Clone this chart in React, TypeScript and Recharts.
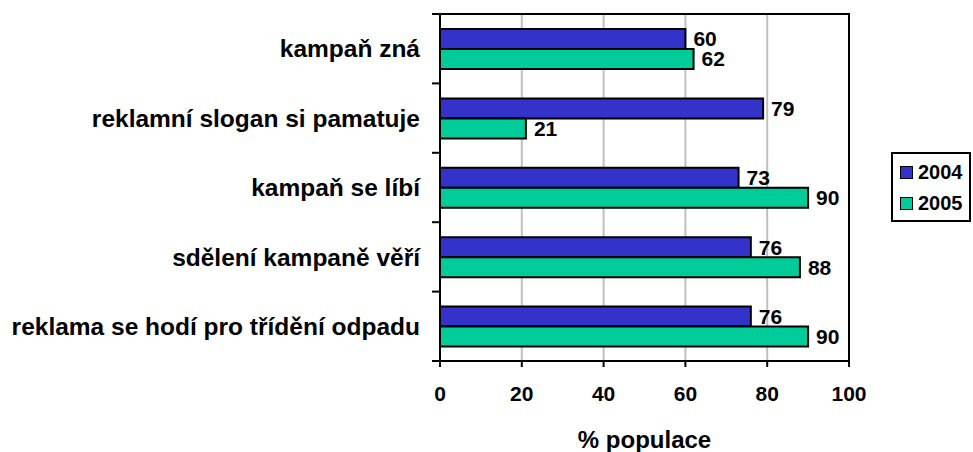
import React from 'react';
import { BarChart, Bar, XAxis, YAxis, CartesianGrid, LabelList, ReferenceArea, Label } from 'recharts';

const categories = [
  'kampaň zná',
  'reklamní slogan si pamatuje',
  'kampaň se líbí',
  'sdělení kampaně věří',
  'reklama se hodí pro třídění odpadu',
];
const values2004 = [60, 79, 73, 76, 76];
const values2005 = [62, 21, 90, 88, 90];
const xTicks = [0, 20, 40, 60, 80, 100];
const seriesNames = ['2004', '2005'];
const seriesColors = ['#3333CC', '#00CC99'];

const data = categories.map((name, i) => ({
  name,
  y2004: values2004[i],
  y2005: values2005[i],
}));

const FONT = '"Liberation Sans", Arial, sans-serif';

const CHART_W = 973;
const CHART_H = 452;
const MARGIN = { top: 14, right: 124, bottom: 0, left: 0 };
const X_AXIS_H = 91;
const Y_AXIS_W = 440;
const BAND = (CHART_H - MARGIN.top - MARGIN.bottom - X_AXIS_H) / categories.length;

// category label plus the small tick marks that sit between categories
const CategoryTick = (props: any) => {
  const { x, y, payload, index } = props;
  const axisX = x + 20;
  const isLast = index === categories.length - 1;
  return (
    <g>
      <text
        x={x}
        y={y}
        dy="0.355em"
        textAnchor="end"
        fill="#000"
        fontSize={24.5}
        fontWeight="bold"
        fontFamily={FONT}
      >
        {payload.value}
      </text>
      <line x1={axisX - 8} x2={axisX} y1={y - BAND / 2} y2={y - BAND / 2} stroke="#000" strokeWidth={2} />
      {isLast && (
        <line x1={axisX - 8} x2={axisX} y1={y + BAND / 2} y2={y + BAND / 2} stroke="#000" strokeWidth={2} />
      )}
    </g>
  );
};

const LegendBox = () => (
  <div
    style={{
      position: 'absolute',
      left: 891,
      top: 152,
      width: 80,
      height: 70,
      border: '2px solid #000',
      boxSizing: 'border-box',
      fontFamily: FONT,
      fontWeight: 'bold',
      fontSize: 20,
      background: '#fff',
    }}
  >
    {seriesNames.map((s, i) => (
      <div
        key={s}
        style={{ position: 'absolute', left: 7, top: i === 0 ? 6 : 37, height: 24, display: 'flex', alignItems: 'center' }}
      >
        <span
          style={{
            display: 'inline-block',
            width: 13,
            height: 13,
            background: seriesColors[i],
            border: '1.5px solid #000',
            boxSizing: 'border-box',
            marginRight: 5,
          }}
        />
        <span>{s}</span>
      </div>
    ))}
  </div>
);

export default function App() {
  const labelStyle = { fill: '#000', fontSize: 21, fontWeight: 'bold', fontFamily: FONT };
  return (
    <div style={{ position: 'absolute', left: 0, top: 0, width: CHART_W, height: CHART_H, background: '#fff' }}>
      <BarChart
        width={CHART_W}
        height={CHART_H}
        data={data}
        layout="vertical"
        margin={MARGIN}
        barSize={20}
        barGap={0}
      >
        <CartesianGrid horizontal={false} stroke="#c0c0c0" strokeWidth={2} />
        <XAxis
          type="number"
          domain={[0, 100]}
          ticks={xTicks}
          height={X_AXIS_H}
          axisLine={{ stroke: '#000', strokeWidth: 2 }}
          tickLine={{ stroke: '#000', strokeWidth: 2 }}
          tickSize={6}
          tickMargin={19}
          tick={{ fill: '#000', fontSize: 21, fontWeight: 'bold', fontFamily: FONT }}
        >
          <Label
            value="% populace"
            position="insideBottom"
            offset={4}
            style={{ fill: '#000', fontSize: 24, fontWeight: 'bold', fontFamily: FONT }}
          />
        </XAxis>
        <YAxis
          type="category"
          dataKey="name"
          width={Y_AXIS_W}
          axisLine={{ stroke: '#000', strokeWidth: 2 }}
          tickLine={false}
          tickSize={0}
          tickMargin={20}
          interval={0}
          tick={<CategoryTick />}
        />
        <ReferenceArea x1={0} x2={100} fill="none" stroke="#000" strokeWidth={2} fillOpacity={0} />
        <Bar dataKey="y2004" name="2004" fill={seriesColors[0]} stroke="#000" strokeWidth={2} isAnimationActive={false}>
          <LabelList dataKey="y2004" position="right" offset={8} style={labelStyle} />
        </Bar>
        <Bar dataKey="y2005" name="2005" fill={seriesColors[1]} stroke="#000" strokeWidth={2} isAnimationActive={false}>
          <LabelList dataKey="y2005" position="right" offset={8} style={labelStyle} />
        </Bar>
      </BarChart>
      <LegendBox />
    </div>
  );
}
